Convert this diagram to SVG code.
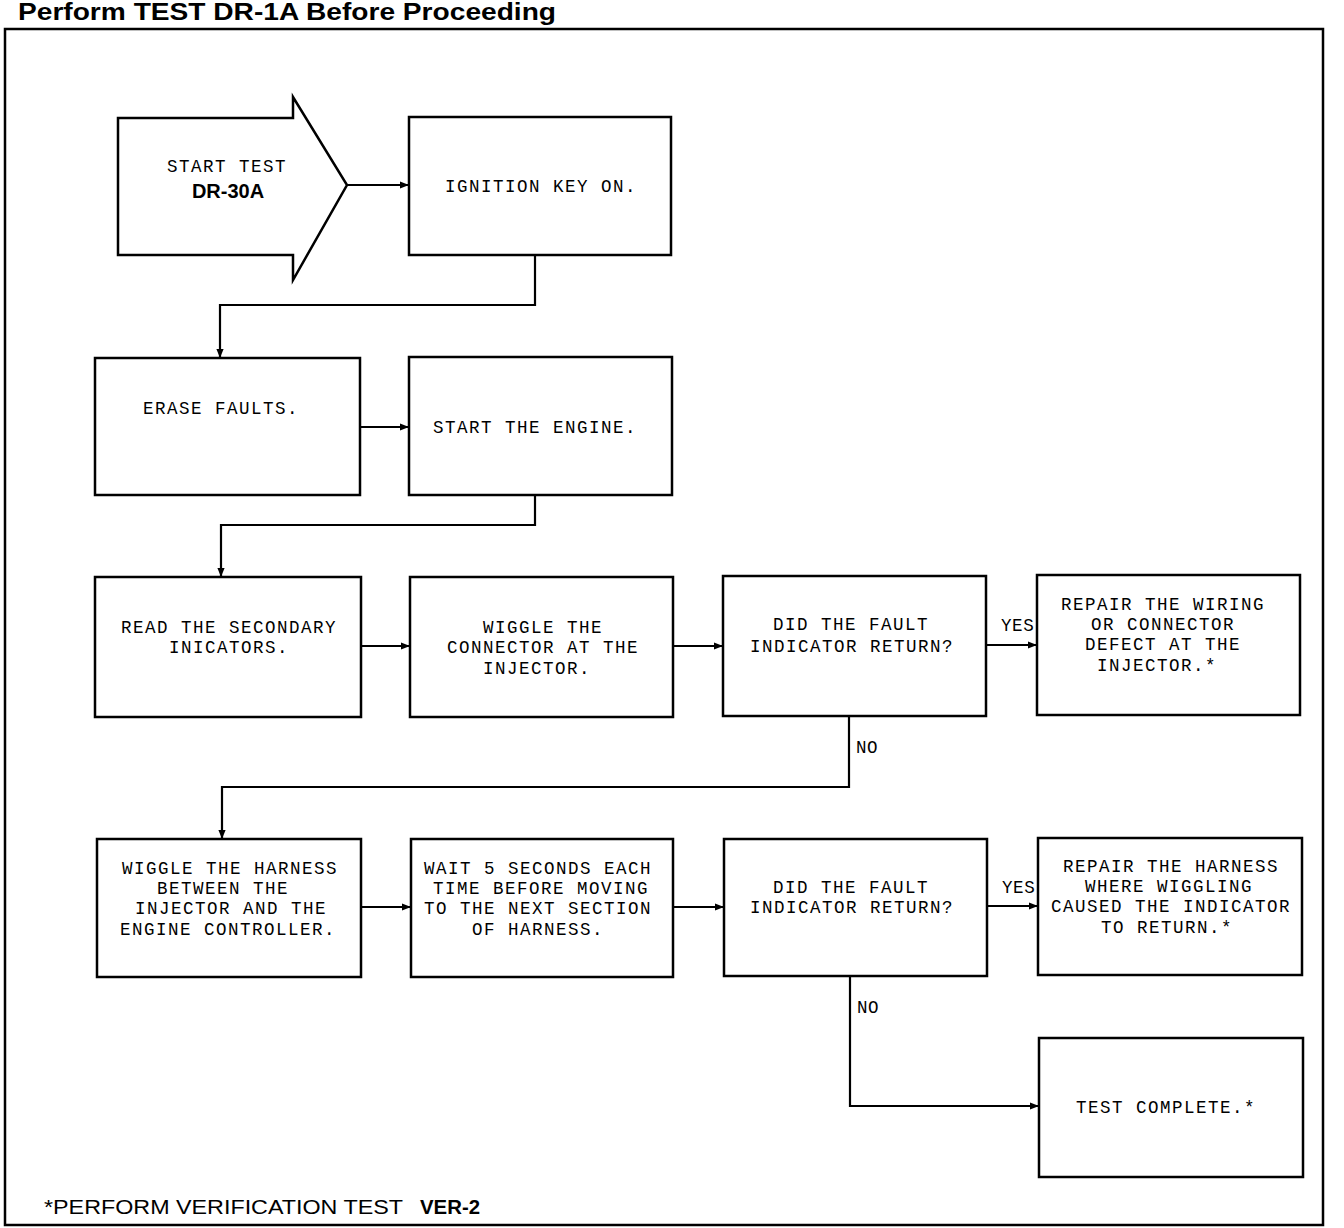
<svg xmlns="http://www.w3.org/2000/svg" width="1344" height="1228" viewBox="0 0 1344 1228">
<style>
.box{fill:#fff;stroke:#000;stroke-width:2.5}
.ln{fill:none;stroke:#000;stroke-width:2.2}
.t{font-family:"Liberation Mono","DejaVu Sans Mono",monospace;font-size:17.5px;letter-spacing:1.5px;fill:#000;text-anchor:middle}
.lbl{font-family:"Liberation Mono","DejaVu Sans Mono",monospace;font-size:17.5px;letter-spacing:0.6px;fill:#000}
.b{font-family:"Liberation Sans",Arial,sans-serif;font-weight:bold;fill:#000}
.s{font-family:"Liberation Sans",Arial,sans-serif;fill:#000}
</style>
<defs>
<marker id="ah" viewBox="0 0 10 10" refX="10" refY="5" markerWidth="9" markerHeight="9" markerUnits="userSpaceOnUse" orient="auto">
<path d="M0,1 L10,5 L0,9 Z" fill="#000"/>
</marker>
</defs>
<rect width="1344" height="1228" fill="#fff"/>
<text class="b" x="18" y="20" font-size="24" textLength="538" lengthAdjust="spacingAndGlyphs">Perform TEST DR-1A Before Proceeding</text>
<rect x="5" y="29" width="1318" height="1196" fill="none" stroke="#000" stroke-width="2.5"/>

<g id="start">
<polygon class="box" points="118,118 293,118 293,97 347,185 293,280 293,255 118,255"/>
<text class="t" x="227" y="172">START TEST</text>
<text class="b" x="228" y="198" font-size="20" text-anchor="middle">DR-30A</text>
</g>
<g id="ignition">
<rect class="box" x="409" y="117" width="262" height="138"/>
<text class="t" x="541" y="192">IGNITION KEY ON.</text>
</g>
<g id="erase">
<rect class="box" x="95" y="358" width="265" height="137"/>
<text class="t" x="221" y="414">ERASE FAULTS.</text>
</g>
<g id="engine">
<rect class="box" x="409" y="357" width="263" height="138"/>
<text class="t" x="535" y="433">START THE ENGINE.</text>
</g>
<g id="read">
<rect class="box" x="95" y="577" width="266" height="140"/>
<text class="t" x="229" y="633">READ THE SECONDARY</text>
<text class="t" x="229" y="653">INICATORS.</text>
</g>
<g id="wiggleconn">
<rect class="box" x="410" y="577" width="263" height="140"/>
<text class="t" x="543" y="633">WIGGLE THE</text>
<text class="t" x="543" y="653">CONNECTOR AT THE</text>
<text class="t" x="537" y="674">INJECTOR.</text>
</g>
<g id="did1">
<rect class="box" x="723" y="576" width="263" height="140"/>
<text class="t" x="851" y="630">DID THE FAULT</text>
<text class="t" x="852" y="652">INDICATOR RETURN?</text>
</g>
<g id="repairwiring">
<rect class="box" x="1037" y="575" width="263" height="140"/>
<text class="t" x="1163" y="610">REPAIR THE WIRING</text>
<text class="t" x="1163" y="630">OR CONNECTOR</text>
<text class="t" x="1163" y="650">DEFECT AT THE</text>
<text class="t" x="1157" y="671">INJECTOR.*</text>
</g>
<g id="wiggleharness">
<rect class="box" x="97" y="839" width="264" height="138"/>
<text class="t" x="230" y="874">WIGGLE THE HARNESS</text>
<text class="t" x="223" y="894">BETWEEN THE</text>
<text class="t" x="231" y="914">INJECTOR AND THE</text>
<text class="t" x="228" y="935">ENGINE CONTROLLER.</text>
</g>
<g id="wait">
<rect class="box" x="411" y="839" width="262" height="138"/>
<text class="t" x="538" y="874">WAIT 5 SECONDS EACH</text>
<text class="t" x="541" y="894">TIME BEFORE MOVING</text>
<text class="t" x="538" y="914">TO THE NEXT SECTION</text>
<text class="t" x="538" y="935">OF HARNESS.</text>
</g>
<g id="did2">
<rect class="box" x="724" y="839" width="263" height="137"/>
<text class="t" x="851" y="893">DID THE FAULT</text>
<text class="t" x="852" y="913">INDICATOR RETURN?</text>
</g>
<g id="repairharness">
<rect class="box" x="1038" y="838" width="264" height="137"/>
<text class="t" x="1171" y="872">REPAIR THE HARNESS</text>
<text class="t" x="1169" y="892">WHERE WIGGLING</text>
<text class="t" x="1171" y="912">CAUSED THE INDICATOR</text>
<text class="t" x="1167" y="933">TO RETURN.*</text>
</g>
<g id="complete">
<rect class="box" x="1039" y="1038" width="264" height="139"/>
<text class="t" x="1166" y="1113">TEST COMPLETE.*</text>
</g>

<g id="connectors">
<path class="ln" d="M347,185 H409" marker-end="url(#ah)"/>
<path class="ln" d="M535,255 V305 H220 V358" marker-end="url(#ah)"/>
<path class="ln" d="M360,427 H409" marker-end="url(#ah)"/>
<path class="ln" d="M535,495 V525 H221 V577" marker-end="url(#ah)"/>
<path class="ln" d="M361,646 H410" stroke-width="3" marker-end="url(#ah)"/>
<path class="ln" d="M673,646 H723" marker-end="url(#ah)"/>
<path class="ln" d="M986,645 H1037" marker-end="url(#ah)"/>
<path class="ln" d="M849,716 V787 H222 V839" marker-end="url(#ah)"/>
<path class="ln" d="M361,907 H411" marker-end="url(#ah)"/>
<path class="ln" d="M673,907 H724" marker-end="url(#ah)"/>
<path class="ln" d="M987,906 H1038" stroke-width="3" marker-end="url(#ah)"/>
<path class="ln" d="M850,976 V1106 H1039" marker-end="url(#ah)"/>
<text class="lbl" x="1001" y="631">YES</text>
<text class="lbl" x="856" y="753">NO</text>
<text class="lbl" x="1002" y="893">YES</text>
<text class="lbl" x="857" y="1013">NO</text>
</g>

<text class="s" x="44" y="1214" font-size="20" textLength="359" lengthAdjust="spacingAndGlyphs">*PERFORM VERIFICATION TEST</text>
<text class="b" x="420" y="1214" font-size="20" textLength="60" lengthAdjust="spacingAndGlyphs">VER-2</text>
</svg>
